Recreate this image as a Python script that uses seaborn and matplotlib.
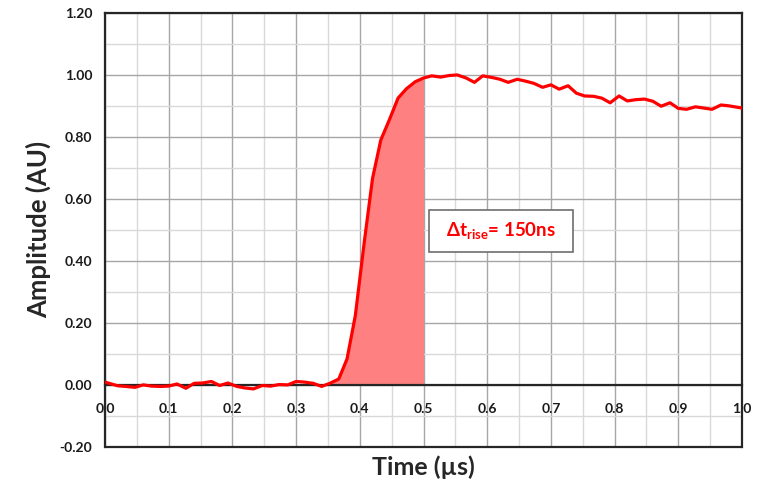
import matplotlib
matplotlib.use("Agg")
import matplotlib.pyplot as plt
from matplotlib.patches import Rectangle
from matplotlib.ticker import MultipleLocator, FormatStrFormatter
import numpy as np
import pandas as pd
import seaborn as sns

# Pulse waveform samples (time in microseconds, amplitude in arbitrary units)
time_us = [
    0.000, 0.020, 0.033, 0.047, 0.060, 0.073, 0.087, 0.100, 0.113, 0.127,
    0.140, 0.153, 0.167, 0.180, 0.193, 0.207, 0.220, 0.233, 0.247, 0.260,
    0.273, 0.287, 0.300, 0.313, 0.327, 0.340, 0.353, 0.367, 0.380, 0.393,
    0.407, 0.420, 0.433, 0.447, 0.460, 0.473, 0.487, 0.500, 0.513, 0.527,
    0.540, 0.553, 0.567, 0.580, 0.593, 0.607, 0.620, 0.633, 0.647, 0.660,
    0.673, 0.687, 0.700, 0.713, 0.727, 0.740, 0.753, 0.767, 0.780, 0.793,
    0.807, 0.820, 0.833, 0.847, 0.860, 0.873, 0.887, 0.900, 0.913, 0.927,
    0.940, 0.953, 0.967, 0.980, 1.000,
]
amplitude = [
    0.008, -0.004, -0.006, -0.009, -0.001, -0.005, -0.006, -0.005, 0.002, -0.012,
    0.004, 0.005, 0.010, -0.003, 0.005, -0.006, -0.011, -0.014, -0.003, -0.005,
    0.000, -0.001, 0.010, 0.008, 0.004, -0.006, 0.004, 0.018, 0.083, 0.223,
    0.460, 0.666, 0.790, 0.858, 0.925, 0.955, 0.978, 0.990, 0.997, 0.993,
    0.998, 1.000, 0.990, 0.976, 0.997, 0.992, 0.986, 0.976, 0.986, 0.980,
    0.973, 0.960, 0.968, 0.954, 0.965, 0.941, 0.932, 0.931, 0.925, 0.910,
    0.932, 0.916, 0.920, 0.922, 0.915, 0.899, 0.910, 0.892, 0.889, 0.897,
    0.893, 0.889, 0.903, 0.900, 0.893,
]

# Rise window shaded under the curve
rise_start = 0.353
rise_end = 0.500
rise_label = "150ns"

x_ticks = [0.0, 0.1, 0.2, 0.3, 0.4, 0.5, 0.6, 0.7, 0.8, 0.9, 1.0]
y_ticks = [-0.20, 0.00, 0.20, 0.40, 0.60, 0.80, 1.00, 1.20]

sns.set_theme(style="white")
plt.rcParams["font.family"] = ["Lato", "DejaVu Sans"]
plt.rcParams["mathtext.fontset"] = "custom"
plt.rcParams["mathtext.rm"] = "Lato"
plt.rcParams["mathtext.bf"] = "Lato:bold"
plt.rcParams["mathtext.it"] = "Lato:italic"
plt.rcParams["mathtext.fallback"] = "stixsans"

df = pd.DataFrame({"time": time_us, "amp": amplitude})

fig = plt.figure(figsize=(7.59, 4.84), dpi=100)
ax = fig.add_axes([105 / 759, 1 - 446.5 / 484, 637 / 759, 433.5 / 484])

# Grid: darker majors, lighter minors
ax.set_xlim(0.0, 1.0)
ax.set_ylim(-0.2, 1.2)
ax.xaxis.set_major_locator(MultipleLocator(0.1))
ax.xaxis.set_minor_locator(MultipleLocator(0.05))
ax.yaxis.set_major_locator(MultipleLocator(0.2))
ax.yaxis.set_minor_locator(MultipleLocator(0.1))
ax.grid(which="major", color="#a6a6a6", linewidth=1.0)
ax.grid(which="minor", color="#d9d9d9", linewidth=1.0)
ax.set_axisbelow(True)

t = np.array(time_us)
a = np.array(amplitude)
ax.fill_between(t, 0, a, where=(t >= rise_start) & (t <= rise_end),
                color="#ff8080", linewidth=0, zorder=2)

sns.lineplot(data=df, x="time", y="amp", ax=ax, color="#ff0000",
             linewidth=2.3, zorder=3)

# Axis frame with the time axis drawn through zero
for side in ["left", "right", "top", "bottom"]:
    ax.spines[side].set_color("#262626")
    ax.spines[side].set_linewidth(1.6)
ax.spines["bottom"].set_position(("data", 0))
ax.spines["bottom"].set_zorder(2.5)
ax.axhline(-0.2, color="#262626", linewidth=1.6, clip_on=False, zorder=5)

ax.set_xticks(x_ticks)
ax.set_yticks(y_ticks)
ax.xaxis.set_major_formatter(FormatStrFormatter("%.1f"))
ax.yaxis.set_major_formatter(FormatStrFormatter("%.2f"))
ax.tick_params(axis="both", which="major", direction="out", length=5,
               width=1.3, color="#262626", labelsize=10, labelcolor="#1a1a1a")
ax.tick_params(axis="both", which="minor", length=0)
ax.tick_params(axis="x", pad=8)
ax.tick_params(axis="y", pad=4)
for lbl in ax.get_xticklabels() + ax.get_yticklabels():
    lbl.set_fontweight("bold")

ax.set_xlabel("Time (µs)", fontsize=18, fontweight="bold")
ax.set_ylabel("Amplitude (AU)", fontsize=18.5, fontweight="bold")
ax.xaxis.set_label_coords(0.5, -0.02)
ax.yaxis.set_label_coords(-0.084, 0.5)

# Rise-time annotation box
ax.add_patch(Rectangle((0.509, 0.428), 0.226, 0.137, facecolor="white",
                       edgecolor="#6e6e6e", linewidth=1.2, zorder=4))
ax.text(0.622, 0.497,
        r"$\mathbf{\Delta t}_{\mathbf{rise}}$" + "= " + rise_label,
        color="#ff0000", fontsize=13.5, fontweight="bold",
        ha="center", va="center", zorder=5)

fig.savefig("out.png", dpi=100)
